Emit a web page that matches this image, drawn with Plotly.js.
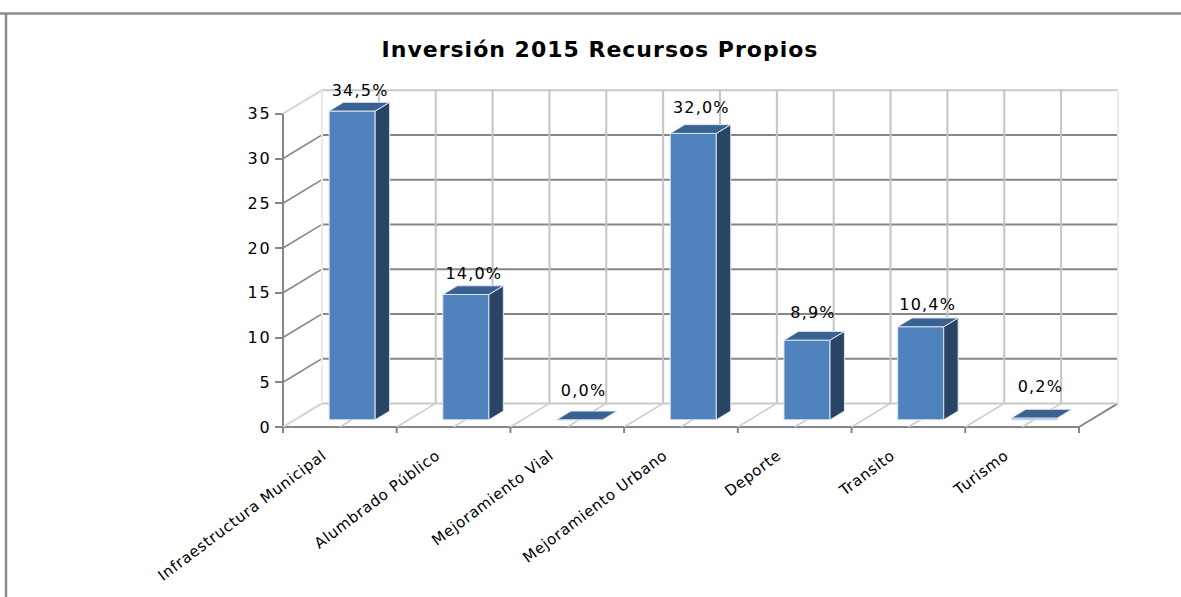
<!DOCTYPE html>
<html>
<head>
<meta charset="utf-8">
<script src="https://cdn.plot.ly/plotly-3.0.1.min.js"></script>
<style>
html,body{margin:0;padding:0;background:#fff;overflow:hidden}
#chart{width:1181px;height:597px}
#chart svg .gtitle{letter-spacing:1px}
#chart svg .xtick text{letter-spacing:.7px}
#chart svg .ytick text{letter-spacing:2px}
#chart svg .textpoint text{letter-spacing:1.2px}
</style>
</head>
<body>
<div id="chart"></div>
<script>
const categories = ["Infraestructura Municipal","Alumbrado Público","Mejoramiento Vial","Mejoramiento Urbano","Deporte","Transito","Turismo"];
const values = [34.5,14.0,0.0,32.0,8.9,10.4,0.2];
const yTicks = [0,5,10,15,20,25,30,35];
const labelLiftPx = [19,20,28,24,26,21,30];
const labelShiftPx = [8,8,4,8,6,7,6];

// projection of the pseudo-3D box, in axis units
const pxX = 113.71, pxY = 8.95;
const depthX = 39/pxX, depthY = 23.6/pxY;
const barDepth = 0.37, barWidth = 0.405;
const plotW = 837, plotH = 339;
const yTop = plotH/pxY, xLeft = -0.5, xRight = -0.5 + plotW/pxX;
const nCat = categories.length, xFront = xLeft + nCat;
const yMax = yTicks[yTicks.length-1];

const FONT = "DejaVu Sans, Verdana, sans-serif";
const shapes = [];
function seg(x0,y0,x1,y1,color,width){
  shapes.push({type:'line',layer:'below',xref:'x',yref:'y',x0,y0,x1,y1,line:{color,width}});
}
// same, in paper fractions so that the line is not cut at the plot edge
const fx = x => (x-xLeft)/(xRight-xLeft), fy = y => y/yTop;
function axisSeg(x0,y0,x1,y1){
  shapes.push({type:'line',layer:'below',xref:'paper',yref:'paper',x0:fx(x0),y0:fy(y0),x1:fx(x1),y1:fy(y1),line:{color:'#868686',width:2}});
}
// back wall and side wall grid
yTicks.forEach(v=>{
  const edge = v===0||v===yMax;
  seg(xLeft+depthX,v+depthY,xFront+depthX,v+depthY,edge?'#c9c9c9':'#868686',2);
  seg(xLeft,v,xLeft+depthX,v+depthY,edge?'#d4d4d4':'#868686',edge?2:1.6);
});
// vertical wall and floor grid at half-category spacing
for(let i=0;i<=nCat*2;i++){
  const x = xLeft+i/2;
  const edge = i===0||i===nCat*2;
  seg(x+depthX,depthY,x+depthX,yMax+depthY,edge?'#ebebeb':'#c4c4c4',2);
  if(i>0&&i<nCat*2) seg(x,0,x+depthX,depthY,'#cccccc',1.6);
}
// axis frame and x tick marks at category boundaries
axisSeg(xLeft,0,xLeft,yMax);
axisSeg(xLeft,0,xFront,0);
axisSeg(xFront,0,xFront+depthX,depthY);
for(let i=0;i<=nCat;i++) axisSeg(xLeft+i,0,xLeft+i,-6/pxY);
// outer frame of the picture
const frameTop = (427-13.5)/plotH, frameLeft = (6-283)/plotW;
shapes.push({type:'line',layer:'below',xref:'paper',yref:'paper',x0:-1,x1:1.2,y0:frameTop,y1:frameTop,line:{color:'#8c8c8c',width:2.5}});
shapes.push({type:'line',layer:'below',xref:'paper',yref:'paper',x0:frameLeft,x1:frameLeft,y0:frameTop,y1:-0.6,line:{color:'#8c8c8c',width:2.5}});

const floorY = 7.2/pxY, floorX = 12.3/pxX;
const bx = categories.map((_,i)=>i+floorX);
const half = barWidth/2, dx = barDepth*depthX, dy = barDepth*depthY;

const sideX=[],sideY=[],topX=[],topY=[];
values.forEach((v,i)=>{
  const r = bx[i]+half, l = bx[i]-half, t = floorY+v;
  if(v>=1){
    sideX.push(r,r+dx,r+dx,r,r,null);
    sideY.push(floorY,floorY+dy,t+dy,t,floorY,null);
  }
  topX.push(l,r,r+dx,l+dx,l,null);
  topY.push(t,t,t+dy,t+dy,t,null);
});

const labels = values.map(v=>v.toFixed(1).replace('.',',')+'%');
const data = [
  {type:'bar',x:bx,y:values,base:values.map(()=>floorY),width:barWidth,
   marker:{color:'#4f81bd',line:{color:'#dce6f2',width:1}},hoverinfo:'skip',showlegend:false},
  {type:'scatter',mode:'lines',x:sideX,y:sideY,fill:'toself',fillcolor:'#2a4466',
   line:{color:'#dce6f2',width:1},hoverinfo:'skip',showlegend:false},
  {type:'scatter',mode:'lines',x:topX,y:topY,fill:'toself',fillcolor:'#3a6291',
   line:{color:'#dce6f2',width:1},hoverinfo:'skip',showlegend:false},
  {type:'scatter',mode:'text',x:bx.map((x,i)=>x+labelShiftPx[i]/pxX),y:values.map((v,i)=>floorY+v+labelLiftPx[i]/pxY),
   text:labels,textposition:'middle center',textfont:{family:FONT,size:16,color:'#000'},
   cliponaxis:false,hoverinfo:'skip',showlegend:false}
];

const layout = {
  width:1181,height:597,autosize:false,
  margin:{l:283,r:1181-283-plotW,t:427-plotH,b:170,pad:0},
  paper_bgcolor:'#fff',plot_bgcolor:'rgba(0,0,0,0)',
  showlegend:false,bargap:0,
  title:{text:'<b>Inversión 2015 Recursos Propios</b>',x:600/1181,xanchor:'center',xref:'container',
         y:1-49/597,yanchor:'middle',yref:'container',font:{family:FONT,size:22,color:'#000'}},
  xaxis:{type:'linear',range:[xLeft,xRight],tickmode:'array',
         tickvals:categories.map((_,i)=>i-0.15),ticktext:categories,tickangle:-37,
         ticks:'',showgrid:false,zeroline:false,showline:false,ticklabelstandoff:16,
         tickfont:{family:FONT,size:15,color:'#000'}},
  yaxis:{type:'linear',range:[0,yTop],tickmode:'array',tickvals:yTicks,ticktext:yTicks.map(String),
         ticks:'outside',ticklen:7,tickwidth:2,tickcolor:'#868686',showgrid:false,zeroline:false,showline:false,
         tickfont:{family:FONT,size:16,color:'#000'}},
  shapes
};
Plotly.newPlot('chart',data,layout,{staticPlot:true,displayModeBar:false});
</script>
</body>
</html>
